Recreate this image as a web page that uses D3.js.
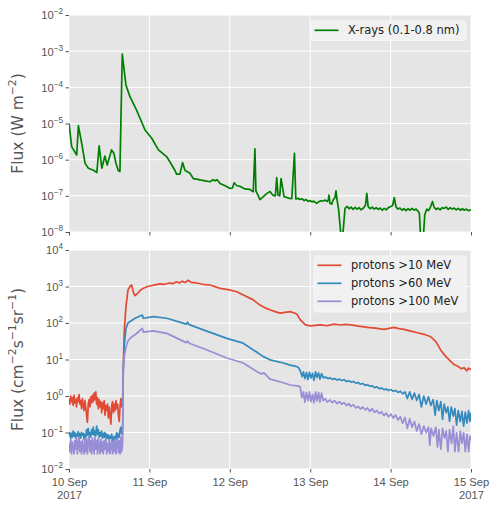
<!DOCTYPE html>
<html>
<head>
<meta charset="utf-8">
<script src="https://cdn.jsdelivr.net/npm/d3@7"></script>
<style>
  body { margin: 0; background: #fff; }
  svg { font-family: "DejaVu Sans", sans-serif; }
</style>
</head>
<body>
<svg id="chart" width="500" height="510"></svg>
<script>
// [hours after 10 Sep 2017 00:00 UTC, flux]
const xrays = [
  [0,1.0e-5],[0.8,2.3e-6],[2.3,1.35e-6],[2.8,8.7e-6],[3.8,2.8e-6],[4.8,7.9e-7],[5.8,5.8e-7],[7.3,5.1e-7],
  [8.3,4.4e-7],[9.0,2.4e-6],[9.8,5.8e-7],[10.7,1.26e-6],[11.4,7.1e-7],[12.7,1.86e-6],[13.4,1.5e-6],
  [14.0,8.1e-7],[14.7,5.0e-7],[15.2,4.7e-7],[15.9,8.3e-4],[17.0,1.15e-4],[18.2,5.5e-5],[20.2,2.3e-5],
  [22.7,6.6e-6],[24.7,3.9e-6],[26.7,1.86e-6],[29.2,1.2e-6],[31.6,5.1e-7],[32.1,4.0e-7],[33.1,4.0e-7],
  [33.9,8.3e-7],[34.6,5.1e-7],[36.1,4.2e-7],[37.1,3.0e-7],[38.1,2.9e-7],[39.1,2.75e-7],[40.6,2.6e-7],
  [42.1,2.45e-7],[43.0,2.8e-7],[43.6,2.6e-7],[44.2,2.8e-7],[45.1,2.2e-7],[46.6,1.9e-7],[48.1,1.6e-7],
  [48.8,1.65e-7],[49.3,2.3e-7],[50.1,1.9e-7],[51.0,1.85e-7],[52.5,1.55e-7],[54.0,1.5e-7],[55.0,1.3e-7],
  [55.5,2.0e-6],[55.8,1.35e-7],[56.3,1.1e-7],[57.0,7.9e-8],[58.0,9.5e-8],[59.0,1.15e-7],[60.0,1.32e-7],
  [60.8,1.05e-7],[61.6,1.0e-7],[62.0,3.2e-7],[62.4,1.05e-7],[62.9,1.0e-7],[63.3,3.0e-7],[63.8,1.6e-7],
  [64.2,9.5e-8],[65.0,9.0e-8],[65.8,8.5e-8],[66.5,8.3e-8],[67.3,1.5e-6],[67.7,8.2e-8],[68.3,8.5e-8],
  [69.0,8.0e-8],[69.6,8.3e-8],[70.2,7.4e-8],[70.8,7.9e-8],[71.4,7.0e-8],[72.0,7.4e-8],[72.4,6.9e-8],
  [73.2,7.0e-8],[73.9,6.2e-8],[74.5,6.8e-8],[75.1,7.3e-8],[75.9,7.2e-8],[76.5,7.6e-8],[77.1,7.0e-8],
  [77.4,7.6e-8],[77.6,1.05e-7],[77.9,6.2e-8],[78.4,5.9e-8],[78.9,7.8e-8],[79.4,9.0e-8],[79.7,1.38e-7],
  [80.0,8.0e-8],[80.5,4.0e-8],[81.3,6e-9],[81.6,6e-9],[82.4,4.5e-8],[83.0,5.1e-8],[83.6,4.4e-8],
  [84.2,4.9e-8],[84.8,4.2e-8],[85.4,4.8e-8],[86.0,4.3e-8],[86.6,4.7e-8],[87.2,4.1e-8],[87.8,4.5e-8],
  [88.5,5.5e-8],[88.9,1.17e-7],[89.3,5.0e-8],[89.9,4.4e-8],[90.5,4.9e-8],[91.1,4.3e-8],[91.7,4.7e-8],
  [92.3,4.2e-8],[92.9,4.6e-8],[93.5,4.0e-8],[94.1,4.5e-8],[94.7,4.1e-8],[95.3,4.7e-8],[95.9,5.0e-8],
  [96.6,5.4e-8],[97.1,8.9e-8],[97.6,5.0e-8],[98.2,4.3e-8],[98.8,4.6e-8],[99.4,4.0e-8],[100.0,4.4e-8],
  [100.6,3.9e-8],[101.2,4.4e-8],[101.8,4.0e-8],[102.4,4.5e-8],[103.0,4.0e-8],[103.6,4.3e-8],[104.2,3.8e-8],
  [104.6,3.2e-8],[105.1,4e-9],[105.6,4e-9],[106.2,3.0e-8],[106.8,4.3e-8],[107.3,3.9e-8],[107.8,4.6e-8],
  [108.5,7.0e-8],[109.0,4.8e-8],[109.6,4.2e-8],[110.2,4.6e-8],[110.8,4.1e-8],[111.4,4.7e-8],[112.0,4.5e-8],
  [112.6,4.9e-8],[113.2,4.2e-8],[113.8,4.7e-8],[114.4,4.3e-8],[115.0,4.6e-8],[115.6,4.1e-8],[116.2,4.5e-8],
  [116.8,4.0e-8],[117.4,4.4e-8],[118.0,4.0e-8],[118.6,4.3e-8],[119.2,3.9e-8],[120.0,4.1e-8]
];

const protons10 = [
  [0,0.85],[0.25,0.6],[0.5,1.0],[0.75,0.7],[1,0.9],[1.25,0.55],[1.5,1.05],[1.75,0.65],[2,0.8],[2.25,0.5],
  [2.5,0.9],[2.75,0.7],[3,1.1],[3.25,0.6],[3.5,0.75],[3.75,0.45],[4,0.85],[4.25,0.55],[4.5,0.4],[4.75,0.75],
  [5,0.5],[5.25,0.3],[5.5,0.19],[5.75,0.6],[6,0.8],[6.25,0.5],[6.5,0.95],[6.75,0.65],[7,1.05],[7.25,0.7],
  [7.5,1.2],[7.75,0.8],[8,1.3],[8.25,0.6],[8.5,0.9],[8.75,0.45],[9,0.8],[9.25,0.5],[9.5,0.7],[9.75,0.35],
  [10,0.65],[10.25,0.45],[10.5,0.75],[10.75,0.3],[11,0.55],[11.25,0.4],[11.5,0.6],[11.75,0.25],[12,0.5],
  [12.25,0.3],[12.5,0.17],[12.75,0.55],[13,0.7],[13.25,0.35],[13.5,0.6],[13.75,0.4],[14,0.75],[14.25,0.45],
  [14.5,0.6],[14.75,0.3],[15,0.2],[15.25,0.55],[15.5,0.85],[15.75,0.5],[16.0,0.6],[16.2,6],[16.5,60],
  [17.0,280],[17.6,800],[18.2,1000],[18.7,1100],[19.2,700],[19.7,560],[20.5,650],[21.2,780],[22.2,900],
  [23.5,1000],[24.5,1050],[26,1120],[27.2,1180],[28.5,1150],[30,1250],[31,1200],[32.1,1350],[33,1250],
  [33.8,1400],[34.6,1280],[35.6,1480],[36.5,1300],[38,1250],[40,1150],[42.1,1100],[45.1,890],[47.5,820],
  [50.1,720],[52.5,560],[55,430],[57,310],[58.5,260],[60,230],[61.5,205],[63,186],[64.5,195],[66,205],
  [67,190],[68,176],[69.1,120],[70.6,89],[72.1,83],[73.5,86],[75.1,89],[77,84],[79.1,93],[81,88],[82.5,92],
  [84.1,89],[86.5,82],[89.1,76],[91.5,72],[94,67],[95.5,71],[97,76],[98.5,70],[100,67],[102,60],[104,54],
  [106,49],[108,42],[109.5,31],[111,18],[112.5,12],[114,8.8],[115,7.2],[116,6.6],[117,5.6],[118,5.9],
  [118.7,4.9],[119.3,5.8],[120,5.2]
];

const protons60 = [
  [0,0.08],[0.25,0.1],[0.5,0.07],[0.75,0.095],[1,0.075],[1.25,0.11],[1.5,0.08],[1.75,0.1],[2,0.07],
  [2.25,0.09],[2.5,0.08],[2.75,0.105],[3,0.075],[3.25,0.095],[3.5,0.07],[3.75,0.1],[4,0.085],[4.25,0.095],
  [4.5,0.065],[4.75,0.09],[5,0.075],[5.25,0.12],[5.5,0.085],[5.75,0.13],[6,0.08],[6.25,0.1],[6.5,0.075],
  [6.75,0.12],[7,0.09],[7.25,0.14],[7.5,0.085],[7.75,0.11],[8,0.08],[8.25,0.15],[8.5,0.09],[8.75,0.12],
  [9,0.075],[9.25,0.1],[9.5,0.08],[9.75,0.11],[10,0.07],[10.25,0.095],[10.5,0.075],[10.75,0.1],[11,0.065],
  [11.25,0.09],[11.5,0.07],[11.75,0.085],[12,0.06],[12.25,0.08],[12.5,0.07],[12.75,0.09],[13,0.055],
  [13.25,0.075],[13.5,0.06],[13.75,0.08],[14,0.065],[14.25,0.1],[14.5,0.07],[14.75,0.09],[15,0.075],
  [15.25,0.12],[15.5,0.14],[15.75,0.09],[16.0,0.1],[16.2,5],[16.5,25],[17.0,70],[17.6,100],[19.7,135],
  [21.9,165],[22.2,135],[25.2,150],[29.2,135],[35.0,93],[35.4,105],[35.9,90],[40.1,65],[47.1,38],
  [52.0,28],[56.0,16],[58.0,12],[60.0,9.8],[64.0,8],[66.0,7],[67.5,6.6],[68.5,6.0],[69.0,5.0],
  [69.6,3.4],[70.0,4.6],[70.4,3.0],[70.9,4.4],[71.3,2.8],[71.8,4.5],[72.2,3.1],[72.7,4.2],[73.1,2.7],
  [73.6,4.6],[74.0,3.2],[74.5,4.3],[74.9,2.9],[75.4,4.1],[75.9,3.2],[76.6,3.3],[77.3,3.0],[77.9,3.15],
  [78.6,2.85],[79.3,3.0],[80.0,2.75],[80.7,2.9],[81.4,2.65],[82.1,2.8],[82.8,2.5],[83.5,2.6],[84.2,2.4],
  [84.9,2.5],[85.6,2.25],[86.3,2.35],[87.0,2.1],[87.7,2.2],[88.4,1.95],[89.1,2.05],[89.8,1.85],[90.5,1.9],
  [91.2,1.7],[91.9,1.78],[92.6,1.6],[93.3,1.65],[94.0,1.5],[94.7,1.55],[95.4,1.42],[96.1,1.5],[96.8,1.35],
  [97.5,1.42],[98.2,1.25],[98.9,1.35],[99.6,1.15],[100.3,1.3],[101.0,0.85],[101.7,1.3],[102.4,0.8],
  [103.1,1.2],[103.8,0.75],[104.5,1.1],[105.2,0.5],[105.9,1.0],[106.6,0.6],[107.3,0.95],[108.0,0.55],
  [108.7,0.8],[109.3,0.3],[109.8,0.75],[110.4,0.4],[111.0,0.7],[111.5,0.23],[112.0,0.6],[112.6,0.35],
  [113.1,0.5],[113.6,0.2],[114.1,0.5],[114.7,0.28],[115.2,0.45],[115.7,0.16],[116.2,0.4],[116.8,0.2],
  [117.3,0.38],[117.8,0.15],[118.3,0.36],[118.8,0.18],[119.3,0.4],[119.7,0.2],[120,0.35]
];

const protons100 = [
  [0,0.05],[0.25,0.03],[0.5,0.065],[0.75,0.026],[1,0.055],[1.25,0.04],[1.5,0.026],[1.75,0.06],[2,0.035],
  [2.25,0.07],[2.5,0.026],[2.75,0.05],[3,0.075],[3.25,0.03],[3.5,0.055],[3.75,0.026],[4,0.06],[4.25,0.04],
  [4.5,0.026],[4.75,0.065],[5,0.03],[5.25,0.07],[5.5,0.026],[5.75,0.055],[6,0.08],[6.25,0.03],[6.5,0.06],
  [6.75,0.026],[7,0.07],[7.25,0.045],[7.5,0.026],[7.75,0.075],[8,0.035],[8.25,0.06],[8.5,0.026],[8.75,0.07],
  [9,0.04],[9.25,0.026],[9.5,0.065],[9.75,0.03],[10,0.055],[10.25,0.026],[10.5,0.06],[10.75,0.035],
  [11,0.07],[11.25,0.026],[11.5,0.05],[11.75,0.03],[12,0.065],[12.25,0.026],[12.5,0.045],[12.75,0.06],
  [13,0.026],[13.25,0.055],[13.5,0.03],[13.75,0.065],[14,0.026],[14.25,0.05],[14.5,0.07],[14.75,0.028],
  [15,0.06],[15.25,0.026],[15.5,0.075],[15.75,0.03],[16.0,0.05],[16.2,5],[16.5,12],[17.0,22],[17.6,32],
  [18.5,40],[20.0,50],[21.9,71],[22.2,56],[25.2,61],[29.2,52],[35.0,29],[35.4,32],[35.9,28],[40.1,20],
  [47.1,11],[52.0,8],[56.0,4.7],[57.5,4.0],[58.2,4.3],[60,2.9],[64,2.3],[66,2.0],[68,1.9],[69.0,1.8],
  [69.5,0.9],[70.0,1.3],[70.4,0.68],[70.9,1.25],[71.3,0.75],[71.8,1.3],[72.2,0.7],[72.7,1.1],[73.1,0.65],
  [73.6,1.3],[74.0,0.72],[74.5,1.25],[74.9,0.68],[75.4,1.2],[75.9,0.75],[76.5,0.85],[77.1,0.68],[77.9,0.78],
  [78.6,0.66],[79.3,0.74],[80.0,0.62],[80.7,0.7],[81.4,0.6],[82.1,0.66],[82.8,0.55],[83.5,0.62],[84.2,0.52],
  [84.9,0.58],[85.6,0.47],[86.3,0.52],[87.0,0.44],[87.7,0.5],[88.4,0.42],[89.1,0.47],[89.8,0.38],
  [90.5,0.45],[91.2,0.36],[91.9,0.4],[92.6,0.33],[93.3,0.37],[94.0,0.29],[94.7,0.34],[95.4,0.27],
  [96.1,0.32],[96.8,0.25],[97.5,0.3],[98.2,0.22],[98.9,0.27],[99.6,0.18],[100.3,0.26],[101.0,0.13],
  [101.7,0.24],[102.4,0.14],[103.1,0.2],[103.8,0.11],[104.5,0.17],[105.2,0.09],[105.9,0.15],[106.6,0.1],
  [107.3,0.14],[107.7,0.045],[108.1,0.13],[108.8,0.08],[109.5,0.14],[110.0,0.04],[110.4,0.12],[111.0,0.035],
  [111.5,0.13],[112.1,0.07],[112.6,0.11],[113.1,0.03],[113.6,0.12],[114.2,0.05],[114.7,0.15],[115.2,0.03],
  [115.7,0.1],[116.3,0.03],[116.8,0.11],[117.3,0.05],[117.8,0.1],[118.3,0.03],[118.8,0.09],[119.3,0.03],
  [119.7,0.08],[120,0.06]
];

const dayLabels = ["10 Sep", "11 Sep", "12 Sep", "13 Sep", "14 Sep", "15 Sep"];
const yearLabels = ["2017", "", "", "", "", "2017"];
const xrayExponents = [-8, -7, -6, -5, -4, -3, -2];
const protonExponents = [-2, -1, 0, 1, 2, 3, 4];
const xrayNames = ["X-rays (0.1-0.8 nm)"];
const protonNames = ["protons >10 MeV", "protons >60 MeV", "protons >100 MeV"];

const t0 = Date.UTC(2017, 8, 10);
const toDate = h => new Date(t0 + h * 36e5);
const days = dayLabels.map((d, i) => toDate(24 * i));

const svg = d3.select("#chart");
const left = 69, right = 471;

const x = d3.scaleUtc()
    .domain([toDate(0), toDate(120)])
    .range([left, right]);

function drawPanel(id, top, bottom, exps, series, colors, names, labelParts, showDates, legendBox) {
    const y = d3.scaleLog()
        .domain([Math.pow(10, exps[0]), Math.pow(10, exps[exps.length - 1])])
        .range([bottom, top]);
    const ticks = exps.map(e => Math.pow(10, e));

    svg.append("rect")
        .attr("x", left).attr("y", top)
        .attr("width", right - left).attr("height", bottom - top)
        .attr("fill", "#e5e5e5");

    svg.append("clipPath").attr("id", id)
        .append("rect")
        .attr("x", left).attr("y", top)
        .attr("width", right - left).attr("height", bottom - top);

    // grid
    const grid = svg.append("g").attr("stroke", "#fff").attr("stroke-width", 1);
    grid.selectAll(".gy").data(ticks).enter().append("line")
        .attr("x1", left).attr("x2", right)
        .attr("y1", d => y(d)).attr("y2", d => y(d));
    grid.selectAll(".gx").data(days).enter().append("line")
        .attr("x1", d => x(d)).attr("x2", d => x(d))
        .attr("y1", top).attr("y2", bottom);

    // axes
    const ya = svg.append("g")
        .attr("transform", `translate(${left},0)`)
        .call(d3.axisLeft(y).tickValues(ticks).tickSize(3.5).tickFormat(""));
    ya.select(".domain").remove();
    ya.selectAll(".tick line").attr("stroke", "#555");
    ya.selectAll(".tick").append("text")
        .attr("x", -6).attr("dy", "0.35em")
        .attr("text-anchor", "end")
        .attr("fill", "#555")
        .attr("font-size", 11.2)
        .each(function(d, i) {
            const t = d3.select(this);
            t.append("tspan").text("10");
            t.append("tspan").attr("dy", -5).attr("font-size", 8.2)
                .text(String(exps[i]).replace("-", "\u2212"));
        });

    const xa = svg.append("g")
        .attr("transform", `translate(0,${bottom})`)
        .call(d3.axisBottom(x).tickValues(days).tickSize(3.5).tickFormat(""));
    xa.select(".domain").remove();
    xa.selectAll(".tick line").attr("stroke", "#555");
    if (showDates) {
        const lab = xa.selectAll(".tick").append("text")
            .attr("fill", "#555").attr("font-size", 11.2)
            .attr("text-anchor", "middle");
        lab.append("tspan").attr("x", 0).attr("y", 16.5).text((d, i) => dayLabels[i]);
        lab.append("tspan").attr("x", 0).attr("y", 30).text((d, i) => yearLabels[i]);
    }

    // y label, superscripts shift up then the next part shifts back
    const lbl = svg.append("text")
        .attr("transform", `translate(22.5,${(top + bottom) / 2}) rotate(-90)`)
        .attr("text-anchor", "middle")
        .attr("fill", "#555")
        .attr("font-size", 15.5);
    let shift = 0;
    labelParts.forEach(p => {
        const sp = lbl.append("tspan").text(p.t);
        if (p.sup) {
            sp.attr("dy", -6.5 - shift).attr("font-size", 10.8);
            shift = -6.5;
        } else if (shift) {
            sp.attr("dy", -shift);
            shift = 0;
        }
    });

    // lines
    const line = d3.line()
        .x(d => x(toDate(d[0])))
        .y(d => y(d[1]));
    svg.append("g").attr("clip-path", `url(#${id})`)
        .selectAll("path")
        .data(series)
        .enter()
        .append("path")
        .attr("d", d => line(d))
        .attr("fill", "none")
        .attr("stroke", (d, i) => colors[i])
        .attr("stroke-width", 1.7)
        .attr("stroke-linejoin", "round");

    // legend
    const lg = svg.append("g");
    lg.append("rect")
        .attr("x", legendBox.x).attr("y", legendBox.y)
        .attr("width", legendBox.w).attr("height", legendBox.h)
        .attr("rx", 2.5)
        .attr("fill", "#f1f1f1")
        .attr("stroke", "#f8f8f8");
    names.forEach((n, i) => {
        const ly = legendBox.y + 9.3 + i * 18;
        lg.append("line")
            .attr("x1", legendBox.x + 3.5).attr("x2", legendBox.x + 27.5)
            .attr("y1", ly).attr("y2", ly)
            .attr("stroke", colors[i]).attr("stroke-width", 1.7);
        lg.append("text")
            .attr("x", legendBox.x + 37).attr("y", ly).attr("dy", "0.35em")
            .attr("font-size", 11.5).attr("fill", "#222")
            .text(n);
    });
}

drawPanel("clipTop", 15, 232, xrayExponents, [xrays], ["#008000"], xrayNames,
    [{t: "Flux (W m"}, {t: "\u22122", sup: true}, {t: ")"}],
    false, {x: 311, y: 21, w: 155, h: 19.5});

drawPanel("clipBottom", 250, 469, protonExponents, [protons10, protons60, protons100],
    ["#E24A33", "#348ABD", "#988ED5"], protonNames,
    [{t: "Flux (cm"}, {t: "\u22122", sup: true}, {t: "s"}, {t: "\u22121", sup: true},
     {t: "sr"}, {t: "\u22121", sup: true}, {t: ")"}],
    true, {x: 314, y: 256, w: 152, h: 56});
</script>
</body>
</html>
